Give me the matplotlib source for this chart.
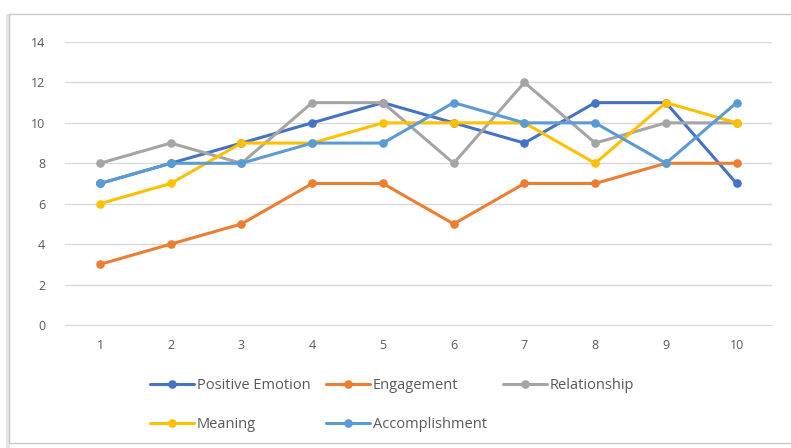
import matplotlib
matplotlib.use("Agg")
import matplotlib.pyplot as plt
from matplotlib.patches import Rectangle

categories = [1, 2, 3, 4, 5, 6, 7, 8, 9, 10]
positive_emotion = [7, 8, 9, 10, 11, 10, 9, 11, 11, 7]
engagement = [3, 4, 5, 7, 7, 5, 7, 7, 8, 8]
relationship = [8, 9, 8, 11, 11, 8, 12, 9, 10, 10]
meaning = [6, 7, 9, 9, 10, 10, 10, 8, 11, 10]
accomplishment = [7, 8, 8, 9, 9, 11, 10, 10, 8, 11]
y_ticks = [0, 2, 4, 6, 8, 10, 12, 14]

series = [
    ("Positive Emotion", positive_emotion, "#4472C4"),
    ("Engagement", engagement, "#ED7D31"),
    ("Relationship", relationship, "#A5A5A5"),
    ("Meaning", meaning, "#FFC000"),
    ("Accomplishment", accomplishment, "#5B9BD5"),
]

plt.rcParams['font.family'] = ['Open Sans', 'DejaVu Sans']

fig = plt.figure(figsize=(7.91, 4.48), dpi=100)
W, H = 791, 448

# chart frame with shadow
fig.patches.append(Rectangle((6 / W, 0), 4 / W, 1 - 14 / H, transform=fig.transFigure,
                             facecolor="#e6e6e6", edgecolor="none", zorder=-5))
fig.patches.append(Rectangle((9 / W, 5 / H), 1.2, 1 - 19 / H, transform=fig.transFigure,
                             facecolor="none", edgecolor="#c8c8c8", linewidth=1.0, zorder=-5))

ax = fig.add_axes([64.6 / W, 1 - 325 / H, (772 - 64.6) / W, (325 - 42) / H])
ax.set_facecolor("none")

handles = {}
for name, vals, color in series:
    (h,) = ax.plot(categories, vals, color=color, linewidth=2.2, marker="o",
                   markersize=5.2, label=name, solid_capstyle="round")
    handles[name] = h

ax.set_xlim(0.5, 10.5)
ax.set_ylim(0, 14)
ax.set_yticks(y_ticks)
ax.set_xticks(categories)
ax.grid(axis="y", color="#d9d9d9", linewidth=1.0)
ax.set_axisbelow(True)
for s in ax.spines.values():
    s.set_visible(False)
ax.spines["bottom"].set_visible(True)
ax.spines["bottom"].set_color("#d9d9d9")
ax.tick_params(axis="both", length=0, labelsize=9, colors="#595959")
ax.tick_params(axis="y", pad=14)
ax.tick_params(axis="x", pad=10)

order = ["Positive Emotion", "Meaning", "Engagement", "Accomplishment", "Relationship"]
fig.legend([handles[n] for n in order], order, loc="center",
           bbox_to_anchor=(392 / W, 1 - 405 / H), ncol=3, frameon=False,
           fontsize=10.5, labelcolor="#595959", handlelength=3.0, handletextpad=0.2,
           columnspacing=1.1, labelspacing=1.65)

fig.savefig("out.png", dpi=100)
